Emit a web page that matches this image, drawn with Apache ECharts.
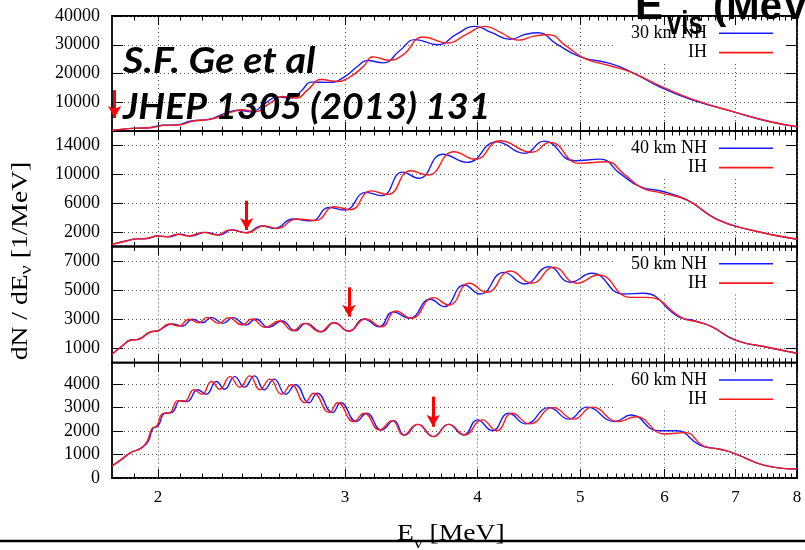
<!DOCTYPE html>
<html><head><meta charset="utf-8">
<script src="https://cdn.jsdelivr.net/npm/echarts@6/dist/echarts.min.js"></script>
<style>html,body{margin:0;padding:0;background:#fff}#c{width:805px;height:550px}</style>
</head><body><div id="c"></div>
<script>
// ---------------- data ----------------
const xTickLabels = [2, 3, 4, 5, 6, 7, 8];
const baselines = ['30 km', '40 km', '50 km', '60 km'];
const yMax = [40000, 16000, 8000, 4900];
const yTickLabels = [
  [10000, 20000, 30000, 40000],
  [2000, 6000, 10000, 14000],
  [1000, 3000, 5000, 7000],
  [0, 1000, 2000, 3000, 4000]
];
const nh30 = [[1.81,200],[1.89,900],[1.96,1150],[2.02,2000],[2.08,2100],[2.15,3500],[2.23,4000],[2.31,6000],[2.38,7200],[2.45,6700],[2.52,9500],[2.59,11800],[2.67,11500],[2.73,14000],[2.79,17000],[2.9,16900],[3.0,18900],[3.09,22800],[3.15,24500],[3.26,23700],[3.38,28000],[3.495,31800],[3.67,30000],[3.82,33600],[3.98,36400],[4.12,34300],[4.295,31900],[4.43,33500],[4.56,34200],[4.75,30200],[5.0,25800],[5.33,23500],[5.58,20600],[5.95,15200],[6.35,11000],[7.0,6500],[7.55,3200],[8.0,1500]];
const ih30 = [[1.81,200],[1.89,900],[1.97,1150],[2.03,2000],[2.09,2100],[2.16,3500],[2.24,4050],[2.33,6200],[2.40,7400],[2.47,6700],[2.55,9700],[2.62,12000],[2.70,11500],[2.77,14500],[2.85,17900],[2.95,17200],[3.03,18700],[3.12,22300],[3.19,25800],[3.30,24600],[3.40,26400],[3.557,32700],[3.748,30600],[3.9,33500],[4.068,36400],[4.2,34400],[4.37,31600],[4.52,33000],[4.665,33500],[4.85,29500],[5.05,25200],[5.33,22700],[5.6,20200],[6.0,15000],[6.4,10800],[7.0,6500],[7.55,3200],[8.0,1500]];
const nh40 = [[1.81,300],[1.87,800],[1.91,1050],[1.955,1100],[2.0,1450],[2.047,1350],[2.097,1700],[2.147,1450],[2.217,1950],[2.285,1600],[2.348,2300],[2.424,1900],[2.505,2850],[2.575,2500],[2.68,3800],[2.79,3550],[2.9,5400],[3.0,5050],[3.14,7500],[3.25,7050],[3.40,10300],[3.52,9450],[3.71,12770],[3.91,11660],[4.17,14500],[4.43,12900],[4.62,14600],[4.94,11880],[5.22,12100],[5.45,10100],[5.69,8300],[5.97,7650],[6.3,6450],[6.72,3800],[7.23,2300],[8.0,1000]];
const ih40 = [[1.81,300],[1.87,800],[1.91,1050],[1.95,1100],[1.994,1450],[2.04,1350],[2.088,1700],[2.137,1450],[2.205,1950],[2.272,1600],[2.336,2300],[2.424,1900],[2.515,2850],[2.59,2500],[2.70,3800],[2.815,3600],[2.93,5500],[3.035,5100],[3.175,7700],[3.29,7200],[3.46,10500],[3.59,9900],[3.80,13130],[3.98,12080],[4.20,14650],[4.50,13050],[4.68,14430],[4.99,11520],[5.29,11740],[5.5,10000],[5.72,8100],[5.97,7400],[6.32,6350],[6.72,3770],[7.23,2290],[8.0,1000]];
const nh50 = [[1.81,580],[1.855,1220],[1.885,1560],[1.915,1610],[1.97,2130],[2.0,2200],[2.062,2660],[2.108,2530],[2.155,2990],[2.203,2750],[2.245,3120],[2.302,2710],[2.353,3100],[2.42,2600],[2.472,3010],[2.542,2440],[2.617,2870],[2.693,2200],[2.758,2710],[2.85,2130],[2.932,2750],[3.026,2180],[3.126,3010],[3.232,2480],[3.33,3500],[3.45,3060],[3.611,4370],[3.72,3860],[3.887,5350],[4.022,4730],[4.235,6220],[4.431,5420],[4.669,6610],[4.891,5540],[5.126,6160],[5.49,4730],[5.73,4780],[6.21,3100],[6.4,2900],[6.625,2530],[7.0,1560],[7.5,1060],[8.0,650]];
const ih50 = [[1.81,580],[1.855,1220],[1.885,1560],[1.915,1610],[1.97,2130],[2.0,2200],[2.05,2660],[2.092,2530],[2.139,2990],[2.185,2750],[2.225,3120],[2.28,2710],[2.331,3100],[2.4,2600],[2.452,3010],[2.524,2440],[2.601,2870],[2.679,2200],[2.748,2710],[2.842,2130],[2.928,2750],[3.026,2180],[3.136,3010],[3.248,2480],[3.35,3560],[3.465,3060],[3.636,4480],[3.758,3970],[3.93,5470],[4.08,4850],[4.295,6310],[4.5,5470],[4.72,6570],[4.96,5470],[5.2,6040],[5.57,4500],[5.78,4500],[6.25,3050],[6.45,2800],[6.65,2480],[7.0,1560],[7.5,1060],[8.0,650]];
const nh60 = [[1.81,510],[1.845,770],[1.885,1080],[1.926,1260],[1.957,1550],[1.978,2110],[2.0,2210],[2.03,2750],[2.06,2780],[2.099,3290],[2.13,3250],[2.18,3750],[2.22,3560],[2.27,4100],[2.311,3770],[2.362,4310],[2.412,3860],[2.465,4340],[2.518,3750],[2.573,4200],[2.638,3560],[2.695,3960],[2.775,3200],[2.825,3600],[2.92,2780],[2.974,3200],[3.075,2400],[3.145,2750],[3.247,2040],[3.336,2440],[3.414,1820],[3.517,2280],[3.634,1760],[3.755,2280],[3.882,1830],[4.0,2470],[4.13,2010],[4.28,2750],[4.44,2300],[4.67,2990],[4.88,2500],[5.07,3010],[5.39,2400],[5.58,2680],[5.92,2010],[6.16,2010],[6.48,1400],[6.77,1220],[6.98,1050],[7.44,550],[8.0,380]];
const ih60 = [[1.81,510],[1.845,770],[1.885,1080],[1.926,1260],[1.953,1550],[1.974,2110],[1.994,2210],[2.022,2750],[2.052,2780],[2.087,3290],[2.118,3250],[2.162,3750],[2.2,3560],[2.246,4100],[2.287,3770],[2.338,4310],[2.388,3860],[2.441,4340],[2.494,3750],[2.549,4200],[2.614,3560],[2.671,3960],[2.751,3200],[2.803,3600],[2.9,2780],[2.954,3200],[3.057,2400],[3.129,2750],[3.233,2040],[3.324,2440],[3.406,1820],[3.511,2280],[3.634,1760],[3.76,2280],[3.89,1830],[4.04,2470],[4.17,2010],[4.31,2750],[4.48,2300],[4.71,2990],[4.93,2500],[5.13,3010],[5.43,2400],[5.64,2600],[6.0,1870],[6.28,1930],[6.52,1380],[6.8,1200],[6.98,1050],[7.44,550],[8.0,380]];
const nhSeries = [nh30, nh40, nh50, nh60];
const ihSeries = [ih30, ih40, ih50, ih60];
const arrowE = [1.82, 2.424, 3.026, 3.633];
const arrowTop = [14200, 6340, 5190, 3460];
const arrowTip = [4500, 2290, 3170, 2180];

// ---------------- layout ----------------
const tops = [16, 131, 246.5, 362.7];
const heights = [115, 115.5, 116.2, 115.3];
const minorTicks = [];
for (let k = 19; k < 80; k++) { if (k % 10 !== 0) minorTicks.push(k / 10); }
const SERIF = '"Liberation Serif", "Times New Roman", serif';
const SANS = '"Liberation Sans", Arial, sans-serif';
const grid = [], xAxis = [], yAxis = [], series = [], legend = [], graphic = [];
const dotted = { color: '#555', width: 1, type: [1, 3] };
const plain = function (v) { return String(v); };

for (let i = 0; i < 4; i++) {
  grid.push({ left: 112, right: 8, top: tops[i], height: heights[i], show: true,
    borderColor: '#000', borderWidth: 1.8, backgroundColor: 'transparent' });
  const base = { type: 'log', logBase: 10, gridIndex: i, min: 1.81, max: 8,
    axisLine: { show: false, onZero: false } };
  xAxis.push(Object.assign({}, base, { position: 'bottom',
    axisTick: { inside: true, length: 9, customValues: xTickLabels, lineStyle: { color: '#000', width: 1 } },
    axisLabel: { show: i === 3, customValues: xTickLabels, formatter: plain, margin: 11, fontFamily: SERIF, fontSize: 17, color: '#000' },
    splitLine: { show: true, lineStyle: dotted } }));
  xAxis.push(Object.assign({}, base, { position: 'bottom', z: 3,
    axisTick: { inside: true, length: 4.5, customValues: minorTicks, lineStyle: { color: '#000', width: 1 } },
    axisLabel: { show: false }, splitLine: { show: false } }));
  xAxis.push(Object.assign({}, base, { position: 'top', z: 3,
    axisTick: { inside: true, length: 9, customValues: xTickLabels, lineStyle: { color: '#000', width: 1 } },
    axisLabel: { show: false }, splitLine: { show: false } }));
  xAxis.push(Object.assign({}, base, { position: 'top', z: 3,
    axisTick: { inside: true, length: 4.5, customValues: minorTicks, lineStyle: { color: '#000', width: 1 } },
    axisLabel: { show: false }, splitLine: { show: false } }));

  yAxis.push({ type: 'value', gridIndex: i, min: 0, max: yMax[i], position: 'left',
    axisLine: { show: false, onZero: false },
    axisTick: { inside: true, length: 11, customValues: yTickLabels[i], lineStyle: { color: '#000', width: 1 } },
    axisLabel: { customValues: yTickLabels[i], formatter: plain, margin: 12, fontFamily: SERIF, fontSize: 18, color: '#000' },
    splitLine: { show: true, lineStyle: dotted } });
  yAxis.push({ type: 'value', gridIndex: i, min: 0, max: yMax[i], position: 'right', z: 3,
    axisLine: { show: false, onZero: false },
    axisTick: { inside: true, length: 11, customValues: yTickLabels[i], lineStyle: { color: '#000', width: 1 } },
    axisLabel: { show: false }, splitLine: { show: false } });

  const nhName = baselines[i] + ' NH';
  series.push({ name: nhName, type: 'line', xAxisIndex: 4 * i, yAxisIndex: 2 * i,
    data: nhSeries[i], smooth: 0.5, showSymbol: false, symbol: 'none', z: 2,
    lineStyle: { color: '#1a1aff', width: 1.4 }, itemStyle: { color: '#1a1aff' } });
  series.push({ name: 'IH', type: 'line', xAxisIndex: 4 * i, yAxisIndex: 2 * i,
    data: ihSeries[i], smooth: 0.5, showSymbol: false, symbol: 'none', z: 2,
    lineStyle: { color: '#ff1a1a', width: 1.4 }, itemStyle: { color: '#ff1a1a' },
    markLine: { silent: true, animation: false, symbol: ['none', 'arrow'], symbolSize: [10, 12],
      label: { show: false }, lineStyle: { color: '#ff0000', width: 3, type: 'solid' },
      data: [[{ coord: [arrowE[i], arrowTop[i]] }, { coord: [arrowE[i], arrowTip[i]] }]] } });

  const rows = [[nhName, tops[i] + 17.3], ['IH', tops[i] + 36.6]];
  rows.forEach(function (r) {
    legend.push({ data: [r[0]], right: 32, top: r[1] - 10, align: 'right', orient: 'horizontal',
      icon: 'rect', itemWidth: 54, itemHeight: 1.6, padding: 0, selectedMode: false,
      textStyle: { fontFamily: SERIF, fontSize: 18, color: '#000', lineHeight: 20, padding: [0, 7, 0, 0] } });
  });
  graphic.push({ type: 'rect', z: 1, silent: true,
    shape: { x: 613, y: tops[i] + 1.5, width: 182, height: 45 }, style: { fill: '#fff' } });
}

// texts
graphic.push({ type: 'text', z: 10, x: 21, y: 261, rotation: Math.PI / 2, scaleX: 1.2,
  style: { text: 'dN / dE{s|ν} [1/MeV]', fontFamily: SERIF, fontSize: 23, fill: '#000',
    align: 'center', verticalAlign: 'middle',
    rich: { s: { fontFamily: SERIF, fontSize: 17, padding: [12, 0, 0, 0] } } } });
graphic.push({ type: 'text', z: 10, x: 397, y: 534, scaleX: 1.15,
  style: { text: 'E{s|ν} [MeV]', fontFamily: SERIF, fontSize: 24, fill: '#000',
    align: 'left', verticalAlign: 'middle',
    rich: { s: { fontFamily: SERIF, fontSize: 17, padding: [20, 0, 0, 0] } } } });
graphic.push({ type: 'line', z: 11, shape: { x1: 0, y1: 541, x2: 805, y2: 541 },
  style: { stroke: '#000', lineWidth: 2.7 } });
graphic.push({ type: 'text', z: 10, x: 123, y: 61, scaleX: 1.1,
  style: { text: 'S.F. Ge et al', fontFamily: 'Lato', fontWeight: 'bold', fontStyle: 'italic', fontSize: 36,
    fill: '#000', align: 'left', verticalAlign: 'middle' } });
graphic.push({ type: 'text', z: 10, x: 123, y: 107, scaleX: 1.04,
  style: { text: 'JHEP 1305 (2013) 131', fontFamily: 'Lato', fontWeight: 'bold', fontStyle: 'italic', fontSize: 36,
    fill: '#000', align: 'left', verticalAlign: 'middle' } });
graphic.push({ type: 'text', z: 10, x: 635, y: 7,
  style: { text: 'E', fontFamily: SANS, fontWeight: 'bold', fontSize: 42,
    fill: '#000', align: 'left', verticalAlign: 'middle' } });
graphic.push({ type: 'text', z: 10, x: 667, y: 25, scaleX: 0.78,
  style: { text: 'vis', fontFamily: SANS, fontWeight: 'bold', fontSize: 33,
    fill: '#000', align: 'left', verticalAlign: 'middle' } });
graphic.push({ type: 'text', z: 10, x: 713, y: 8,
  style: { text: '(MeV)', fontFamily: SANS, fontWeight: 'bold', fontSize: 40,
    fill: '#000', align: 'left', verticalAlign: 'middle' } });

const chart = echarts.init(document.getElementById('c'), null, { renderer: 'canvas' });
chart.setOption({ backgroundColor: '#fff', animation: false, grid: grid, xAxis: xAxis, yAxis: yAxis,
  series: series, legend: legend, graphic: { elements: graphic } });
</script></body></html>
